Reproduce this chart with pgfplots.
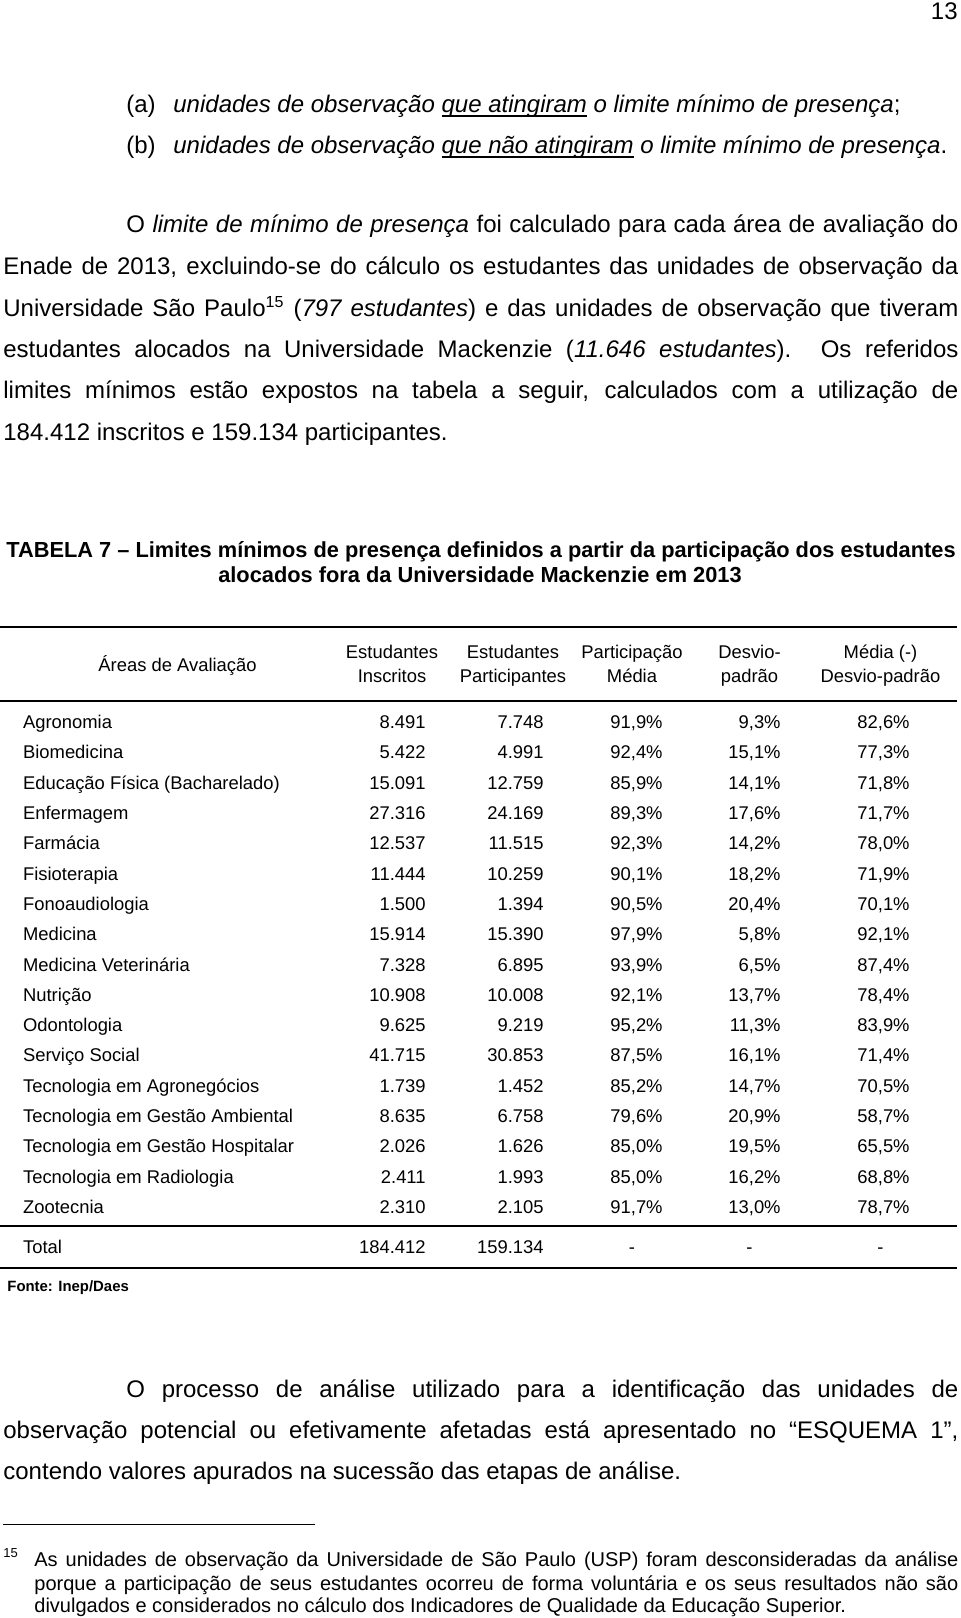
\documentclass[border=0pt]{standalone}
\usepackage{fontspec}
\setmainfont{Liberation Sans}
\usepackage{pgfplots}
\usepackage{pgfplotstable}
\pgfplotsset{compat=1.18}

\newcommand\bodyfont{\fontsize{12}{14}\selectfont}
\newcommand\tabfont{\fontsize{9.2}{11}\selectfont}
\newcommand\titfont{\fontsize{10.9}{12}\selectfont\bfseries}
\newcommand\jl[2]{\makebox[#1][s]{#2}}
\newcommand\ul[1]{\setbox0\hbox{#1}\rlap{\rule[-2.3pt]{\wd0}{0.7pt}}\box0\relax}

% linhas da tabela: y = linha de base (px)
\pgfplotstableread[col sep=semicolon]{
y;area;insc;part;pmed;dp;mdp
728.6;Agronomia;8.491;7.748;91,9;9,3;82,6
758.9;Biomedicina;5.422;4.991;92,4;15,1;77,3
789.2;Educação Física (Bacharelado);15.091;12.759;85,9;14,1;71,8
819.5;Enfermagem;27.316;24.169;89,3;17,6;71,7
849.8;Farmácia;12.537;11.515;92,3;14,2;78,0
880.1;Fisioterapia;11.444;10.259;90,1;18,2;71,9
910.4;Fonoaudiologia;1.500;1.394;90,5;20,4;70,1
940.7;Medicina;15.914;15.390;97,9;5,8;92,1
971.0;Medicina Veterinária;7.328;6.895;93,9;6,5;87,4
1001.3;Nutrição;10.908;10.008;92,1;13,7;78,4
1031.6;Odontologia;9.625;9.219;95,2;11,3;83,9
1061.9;Serviço Social;41.715;30.853;87,5;16,1;71,4
1092.2;Tecnologia em Agronegócios;1.739;1.452;85,2;14,7;70,5
1122.5;Tecnologia em Gestão Ambiental;8.635;6.758;79,6;20,9;58,7
1152.8;Tecnologia em Gestão Hospitalar;2.026;1.626;85,0;19,5;65,5
1183.1;Tecnologia em Radiologia;2.411;1.993;85,0;16,2;68,8
1213.4;Zootecnia;2.310;2.105;91,7;13,0;78,7
}\tabdata

\pgfplotstableread[col sep=semicolon]{
y;area;insc;part;pmed;dp;mdp
1253;Total;184.412;159.134;-;-;-
}\totdata

\begin{document}
\begin{tikzpicture}
\begin{axis}[
  x=0.5pt, y=0.5pt, y dir=reverse,
  xmin=0, xmax=960, ymin=0, ymax=1618,
  hide axis, clip=false,
  cell/.style={only marks, mark=*, mark size=0pt,
    scatter/use mapped color={draw=none, fill=none},
    mark options={draw=none, fill=none},
    point meta=explicit symbolic,
    nodes near coords style={anchor=base east, inner sep=0pt, font=\tabfont}},
]
\addplot[draw=none, mark=none] coordinates {(0,0) (960,1618)};

% número da página
\node[anchor=base east, inner sep=0pt, font=\bodyfont] at (axis cs:958,19) {13};

% itens (a) e (b)
\node[anchor=base west, inner sep=0pt, font=\bodyfont] at (axis cs:126,112) {(a)};
\node[anchor=base west, inner sep=0pt, font=\bodyfont] at (axis cs:173,112)
  {\textit{unidades de observação \ul{que atingiram} o limite mínimo de presença};};
\node[anchor=base west, inner sep=0pt, font=\bodyfont] at (axis cs:126,153) {(b)};
\node[anchor=base west, inner sep=0pt, font=\bodyfont] at (axis cs:173,153)
  {\textit{unidades de observação \ul{que não atingiram} o limite mínimo de presença}.};

% parágrafo
\node[anchor=base west, inner sep=0pt, font=\bodyfont] at (axis cs:126,232)
  {\jl{416pt}{O \textit{limite de mínimo de presença} foi calculado para cada área de avaliação do}};
\node[anchor=base west, inner sep=0pt, font=\bodyfont] at (axis cs:3,274.5)
  {\jl{477.5pt}{Enade de 2013, excluindo-se do cálculo os estudantes das unidades de observação da}};
\node[anchor=base west, inner sep=0pt, font=\bodyfont] at (axis cs:3,316)
  {\jl{477.5pt}{Universidade São Paulo\textsuperscript{15} (\textit{797 estudantes}) e das unidades de observação que tiveram}};
\node[anchor=base west, inner sep=0pt, font=\bodyfont] at (axis cs:3,357)
  {\jl{477.5pt}{estudantes alocados na Universidade Mackenzie (\textit{11.646 estudantes}). Os referidos}};
\node[anchor=base west, inner sep=0pt, font=\bodyfont] at (axis cs:3,398.5)
  {\jl{477.5pt}{limites mínimos estão expostos na tabela a seguir, calculados com a utilização de}};
\node[anchor=base west, inner sep=0pt, font=\bodyfont] at (axis cs:3,440)
  {184.412 inscritos e 159.134 participantes.};

% título da tabela
\node[anchor=base, inner sep=0pt, font=\titfont] at (axis cs:481,557.5)
  {TABELA 7 -- Limites mínimos de presença definidos a partir da participação dos estudantes};
\node[anchor=base, inner sep=0pt, font=\titfont] at (axis cs:480,582)
  {alocados fora da Universidade Mackenzie em 2013};

% filetes
\draw[line width=1pt] (axis cs:0,626.6) -- (axis cs:957,626.6);
\draw[line width=1pt] (axis cs:0,701) -- (axis cs:957,701);
\draw[line width=1pt] (axis cs:0,1226) -- (axis cs:957,1226);
\draw[line width=1pt] (axis cs:0,1268) -- (axis cs:957,1268);

% cabeçalho
\node[anchor=base, inner sep=0pt, font=\tabfont] at (axis cs:177.5,671) {Áreas de Avaliação};
\foreach \cx/\la/\lb in {392/Estudantes/Inscritos, 513/Estudantes/Participantes,
    632/Participação/Média, 749.5/Desvio-/padrão, 880.5/Média (-)/Desvio-padrão} {
  \edef\tmp{\noexpand\node[anchor=base, inner sep=0pt, font=\noexpand\tabfont] at (axis cs:\cx,658) {\la};}\tmp
  \edef\tmp{\noexpand\node[anchor=base, inner sep=0pt, font=\noexpand\tabfont] at (axis cs:\cx,682.5) {\lb};}\tmp
}

% corpo da tabela
\addplot[cell, nodes near coords={\pgfplotspointmeta}, nodes near coords style={anchor=base west}]
  table[x expr=22.7, y=y, meta=area] {\tabdata};
\addplot[cell, nodes near coords={\pgfplotspointmeta}] table[x expr=426, y=y, meta=insc] {\tabdata};
\addplot[cell, nodes near coords={\pgfplotspointmeta}] table[x expr=544, y=y, meta=part] {\tabdata};
\addplot[cell, nodes near coords={\pgfplotspointmeta\%}] table[x expr=663, y=y, meta=pmed] {\tabdata};
\addplot[cell, nodes near coords={\pgfplotspointmeta\%}] table[x expr=781, y=y, meta=dp] {\tabdata};
\addplot[cell, nodes near coords={\pgfplotspointmeta\%}] table[x expr=910, y=y, meta=mdp] {\tabdata};

% total
\addplot[cell, nodes near coords={\pgfplotspointmeta}, nodes near coords style={anchor=base west}]
  table[x expr=22.7, y=y, meta=area] {\totdata};
\addplot[cell, nodes near coords={\pgfplotspointmeta}] table[x expr=426, y=y, meta=insc] {\totdata};
\addplot[cell, nodes near coords={\pgfplotspointmeta}] table[x expr=544, y=y, meta=part] {\totdata};
\addplot[cell, nodes near coords={\pgfplotspointmeta}, nodes near coords style={anchor=base}] table[x expr=632, y=y, meta=pmed] {\totdata};
\addplot[cell, nodes near coords={\pgfplotspointmeta}, nodes near coords style={anchor=base}] table[x expr=749.5, y=y, meta=dp] {\totdata};
\addplot[cell, nodes near coords={\pgfplotspointmeta}, nodes near coords style={anchor=base}] table[x expr=880.5, y=y, meta=mdp] {\totdata};

\node[anchor=base west, inner sep=0pt, font=\fontsize{7.45}{9}\selectfont\bfseries] at (axis cs:7,1291) {Fonte: Inep/Daes};

% parágrafo final
\node[anchor=base west, inner sep=0pt, font=\bodyfont] at (axis cs:126,1397)
  {\jl{416pt}{O processo de análise utilizado para a identificação das unidades de}};
\node[anchor=base west, inner sep=0pt, font=\bodyfont] at (axis cs:3,1438)
  {\jl{477.5pt}{observação potencial ou efetivamente afetadas está apresentado no “ESQUEMA 1”,}};
\node[anchor=base west, inner sep=0pt, font=\bodyfont] at (axis cs:3,1479.5)
  {contendo valores apurados na sucessão das etapas de análise.};

% nota de rodapé
\draw[line width=0.5pt] (axis cs:3,1524.7) -- (axis cs:315,1524.7);
\node[anchor=base west, inner sep=0pt, font=\fontsize{6.5}{8}\selectfont] at (axis cs:3,1557) {15};
\node[anchor=base west, inner sep=0pt, font=\fontsize{10}{12}\selectfont] at (axis cs:34,1566)
  {\jl{462pt}{As unidades de observação da Universidade de São Paulo (USP) foram desconsideradas da análise}};
\node[anchor=base west, inner sep=0pt, font=\fontsize{10}{12}\selectfont] at (axis cs:34,1590)
  {\jl{462pt}{porque a participação de seus estudantes ocorreu de forma voluntária e os seus resultados não são}};
\node[anchor=base west, inner sep=0pt, font=\fontsize{10}{12}\selectfont] at (axis cs:34,1612)
  {divulgados e considerados no cálculo dos Indicadores de Qualidade da Educação Superior.};
\end{axis}
\pgfresetboundingbox
\path (current axis.south west) rectangle (current axis.north east);
\end{tikzpicture}
\end{document}
